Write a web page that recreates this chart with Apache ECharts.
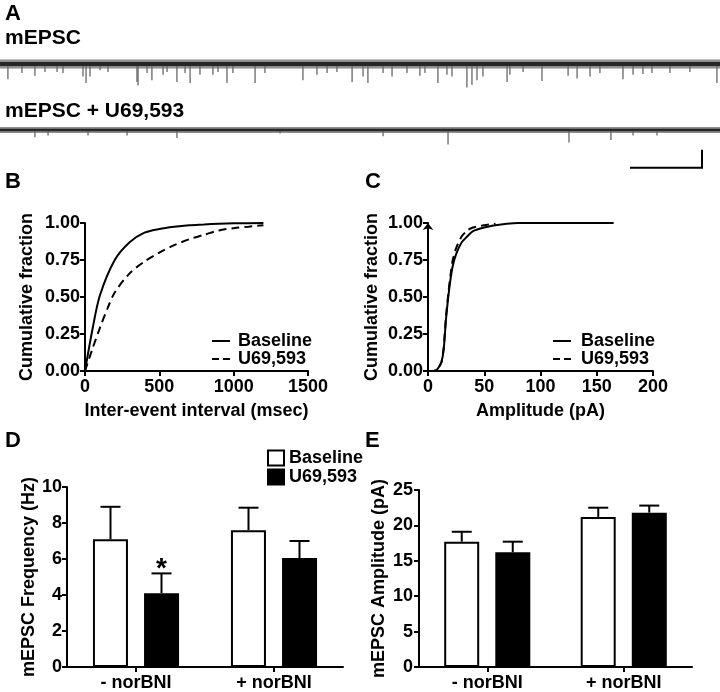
<!DOCTYPE html>
<html>
<head>
<meta charset="utf-8">
<script src="https://cdn.jsdelivr.net/npm/echarts@6/dist/echarts.min.js"></script>
<style>html,body{margin:0;padding:0;background:#fff}#c{width:720px;height:692px}</style>
</head>
<body>
<div id="c"></div>
<script>
// ---------- Panel A: trace events (time in s, amplitude in pA) ----------
const traceSpan = [0, 40];
const eventTimes1 = [0.44,1.22,1.94,2.5,3.17,3.5,4.61,4.78,5.0,5.56,6.0,7.61,7.67,8.17,8.44,9.06,9.28,9.83,10.28,10.56,11.11,11.83,12.11,12.61,12.94,14.17,14.72,16.83,17.61,18.17,18.72,19.56,20.17,20.44,21.28,21.78,22.61,23.33,23.61,24.33,24.83,25.11,25.94,26.22,26.5,26.83,28.17,28.33,29.06,30.11,31.56,32.06,32.78,33.33,34.61,35.17,35.72,36.22,37.22,38.33,39.83];
const eventAmps1  = [17,10,13,9,9,10,14,21,14,7,9,20,24,10,18,12,9,20,10,21,12,12,9,21,10,21,10,18,12,10,9,20,14,21,10,14,10,13,10,21,12,14,26,23,18,14,20,12,9,19,13,16,14,10,17,12,11,10,10,9,21];
const eventTimes2 = [1.94,2.67,4.89,7.06,9.83,15.56,21.28,24.89,31.61,33.94,35.17,36.5];
const eventAmps2  = [8,6,6,6,9,4,7,16,14,11,6,6];
const scaleBarX = [35, 39];   // 4 s
const scaleBarY = [-42, -22]; // 20 pA

// ---------- Panel B: cumulative inter-event interval ----------
const bIntervals = [0,50,100,200,300,400,500,600,700,800,900,1000,1200];
const bBaseline  = [0,0.28,0.51,0.75,0.87,0.935,0.96,0.975,0.985,0.99,0.995,0.998,1.0];
const bU69Int    = [0,50,100,150,200,300,400,500,600,700,800,900,1000,1100,1200];
const bU69       = [0,0.15,0.29,0.42,0.53,0.66,0.74,0.80,0.85,0.89,0.92,0.95,0.965,0.975,0.985];
const fracTicks = ['0.00','0.25','0.50','0.75','1.00'];

// ---------- Panel C: cumulative amplitude ----------
const cAmpBase = [0,5,8,10,12,14,16,18,20,22,25,30,35,40,50,60,70,80,165];
const cBaseline = [0,0,0.01,0.03,0.06,0.15,0.35,0.5,0.62,0.71,0.79,0.87,0.91,0.945,0.97,0.985,0.995,1.0,1.0];
const cAmpU69 = [0,5,8,10,12,14,16,18,20,22,25,30,35,40,50,60];
const cU69 = [0,0,0.01,0.03,0.06,0.16,0.37,0.52,0.65,0.75,0.83,0.91,0.95,0.97,0.985,0.995];

// ---------- Panels D, E: bar charts ----------
const groups = ['- norBNI', '+ norBNI'];
const dBaseMean = [7.1, 7.6],  dBaseErr = [1.8, 1.25];
const dU69Mean  = [4.1, 6.05], dU69Err  = [1.1, 0.95];
const dU69Sig   = ['*', ''];
const eBaseMean = [17.7, 21.2], eBaseErr = [1.4, 1.3];
const eU69Mean  = [16.2, 21.8], eU69Err  = [1.5, 1.0];

const FONT = 'Liberation Sans, Arial, Helvetica, sans-serif';
const labelStyle = {color:'#000', fontWeight:'bold', fontSize:18, fontFamily:FONT};
const nameStyle = {color:'#000', fontWeight:'bold', fontSize:18, fontFamily:FONT};
const axLine = {show:true, lineStyle:{color:'#000', width:2}};
const axTick = {show:true, length:5, lineStyle:{color:'#000', width:2}};
const SOLID_ICON = 'path://M0,0H18V2H0Z';
const DASH_ICON = 'path://M0,0H7V2H0Z M11,0H18V2H11Z';

const BAR_W = 35, OFF = 25.5;

function pairs(xs, ys){ return xs.map((x,i)=>[x, ys[i]]); }

function spikeSeries(times, amps, ai){
  return {
    type:'custom', xAxisIndex:ai, yAxisIndex:ai, silent:true, z:2,
    data: pairs(times, amps),
    renderItem:(p, api)=>{
      const a = api.coord([api.value(0), 0]);
      const b = api.coord([api.value(0), -api.value(1)]);
      return {type:'line', shape:{x1:a[0],y1:a[1],x2:b[0],y2:b[1]}, style:{stroke:'#5a5a5a', lineWidth:1.2}};
    }
  };
}
function bandSeries(ai, w1, w2){
  return [
    {type:'line', xAxisIndex:ai, yAxisIndex:ai, symbol:'none', silent:true, z:3,
     data:[[traceSpan[0],0],[traceSpan[1],0]], lineStyle:{color:'#6a6a6a', width:w2, opacity:0.75}},
    {type:'line', xAxisIndex:ai, yAxisIndex:ai, symbol:'none', silent:true, z:4,
     data:[[traceSpan[0],0],[traceSpan[1],0]], lineStyle:{color:'#262626', width:w1}}
  ];
}
function errSeries(ai, means, errs, sign, sig){
  return {
    type:'custom', xAxisIndex:ai, yAxisIndex:ai, silent:true, z:10,
    data: means.map((m,i)=>[i, m, errs[i]]),
    renderItem:(p, api)=>{
      const i = api.value(0), m = api.value(1), e = api.value(2);
      const a = api.coord([i, m]), b = api.coord([i, m+e]);
      const x = a[0] + sign*OFF;
      const children = [
        {type:'line', shape:{x1:x,y1:a[1],x2:x,y2:b[1]}, style:{stroke:'#000', lineWidth:2}},
        {type:'line', shape:{x1:x-10,y1:b[1],x2:x+10,y2:b[1]}, style:{stroke:'#000', lineWidth:2}}
      ];
      if (sig && sig[p.dataIndex]) {
        children.push({type:'text', style:{text:sig[p.dataIndex], x:x, y:b[1]+10, align:'center', verticalAlign:'bottom',
          font:'bold 28px ' + FONT, fill:'#000'}});
      }
      return {type:'group', children};
    }
  };
}

const fmtName = n => n.slice(2);

const option = {
  animation:false,
  backgroundColor:'#fff',
  textStyle:{fontFamily:FONT},
  grid:[
    {left:0, width:720, top:55, height:36},
    {left:0, width:720, top:121, height:49.5},
    {left:85, right:412, top:223, bottom:321},
    {left:428, right:67, top:223, bottom:321},
    {left:67, right:377, top:487, bottom:23},
    {left:419, right:28, top:490, bottom:23}
  ],
  xAxis:[
    {gridIndex:0, type:'value', min:traceSpan[0], max:traceSpan[1], show:false},
    {gridIndex:1, type:'value', min:traceSpan[0], max:traceSpan[1], show:false},
    {gridIndex:2, type:'value', min:0, max:1500, interval:500, axisLine:axLine, axisTick:axTick,
     splitLine:{show:false}, axisLabel:Object.assign({margin:7, formatter:v=>String(v)}, labelStyle),
     name:'Inter-event interval (msec)', nameLocation:'middle', nameGap:31, nameTextStyle:nameStyle},
    {gridIndex:3, type:'value', min:0, max:200, interval:50, axisLine:axLine, axisTick:axTick,
     splitLine:{show:false}, axisLabel:Object.assign({margin:7, formatter:v=>String(v)}, labelStyle),
     name:'Amplitude (pA)', nameLocation:'middle', nameGap:31, nameTextStyle:nameStyle},
    {gridIndex:4, type:'category', data:groups, axisLine:axLine, axisTick:Object.assign({alignWithLabel:true}, axTick),
     axisLabel:Object.assign({margin:7}, labelStyle)},
    {gridIndex:5, type:'category', data:groups, axisLine:axLine, axisTick:Object.assign({alignWithLabel:true}, axTick),
     axisLabel:Object.assign({margin:7}, labelStyle)}
  ],
  yAxis:[
    {gridIndex:0, type:'value', min:-30, max:10, show:false},
    {gridIndex:1, type:'value', min:-45, max:10, show:false},
    {gridIndex:2, type:'value', min:0, max:1, interval:0.25, axisLine:axLine, axisTick:axTick,
     splitLine:{show:false}, axisLabel:Object.assign({margin:5, formatter:v=>fracTicks[Math.round(v*4)]}, labelStyle),
     name:'Cumulative fraction', nameLocation:'middle', nameGap:49, nameTextStyle:nameStyle},
    {gridIndex:3, type:'value', min:0, max:1, interval:0.25,
     axisLine:Object.assign({symbol:['none','arrow'], symbolSize:[8,7]}, axLine), axisTick:axTick,
     splitLine:{show:false}, axisLabel:Object.assign({margin:5, formatter:v=>fracTicks[Math.round(v*4)]}, labelStyle),
     name:'Cumulative fraction', nameLocation:'middle', nameGap:47, nameTextStyle:nameStyle},
    {gridIndex:4, type:'value', min:0, max:10, interval:2, axisLine:axLine, axisTick:axTick,
     splitLine:{show:false}, axisLabel:Object.assign({margin:5}, labelStyle),
     name:'mEPSC Frequency (Hz)', nameLocation:'middle', nameGap:27, nameTextStyle:nameStyle},
    {gridIndex:5, type:'value', min:0, max:25, interval:5, axisLine:axLine, axisTick:axTick,
     splitLine:{show:false}, axisLabel:Object.assign({margin:6}, labelStyle),
     name:'mEPSC Amplitude (pA)', nameLocation:'middle', nameGap:31, nameTextStyle:nameStyle}
  ],
  legend:[
    {orient:'vertical', left:212, top:332, padding:0, itemWidth:18, itemHeight:2, itemGap:0, selectedMode:false,
     formatter:fmtName,
     data:[{name:'B:Baseline', icon:SOLID_ICON, itemStyle:{color:'#000'}},
           {name:'B:U69,593', icon:DASH_ICON, itemStyle:{color:'#000'}}],
     textStyle:Object.assign({lineHeight:16.5, padding:[0,0,0,3]}, labelStyle)},
    {orient:'vertical', left:553, top:332, padding:0, itemWidth:18, itemHeight:2, itemGap:0, selectedMode:false,
     formatter:fmtName,
     data:[{name:'C:Baseline', icon:SOLID_ICON, itemStyle:{color:'#000'}},
           {name:'C:U69,593', icon:DASH_ICON, itemStyle:{color:'#000'}}],
     textStyle:Object.assign({lineHeight:16.5, padding:[0,0,0,5]}, labelStyle)},
    {orient:'vertical', left:267, top:449, padding:0, itemWidth:16, itemHeight:15, itemGap:1, selectedMode:false,
     formatter:fmtName,
     data:[{name:'D:Baseline', icon:'rect', itemStyle:{color:'#fff', borderColor:'#000', borderWidth:2}},
           {name:'D:U69,593', icon:'rect', itemStyle:{color:'#000', borderColor:'#000', borderWidth:2}}],
     textStyle:Object.assign({lineHeight:15}, labelStyle)}
  ],
  graphic:[
    {type:'text', left:5, top:3, style:{text:'A', font:'bold 22px '+FONT, fill:'#000'}},
    {type:'text', left:5, top:28, style:{text:'mEPSC', font:'bold 21px '+FONT, fill:'#000'}},
    {type:'text', left:5, top:101, style:{text:'mEPSC + U69,593', font:'bold 21px '+FONT, fill:'#000'}},
    {type:'text', left:5, top:171, style:{text:'B', font:'bold 22px '+FONT, fill:'#000'}},
    {type:'text', left:365, top:171, style:{text:'C', font:'bold 22px '+FONT, fill:'#000'}},
    {type:'text', left:5, top:430, style:{text:'D', font:'bold 22px '+FONT, fill:'#000'}},
    {type:'text', left:365, top:430, style:{text:'E', font:'bold 22px '+FONT, fill:'#000'}}
  ],
  series:[
    spikeSeries(eventTimes1, eventAmps1, 0),
    ...bandSeries(0, 4, 9),
    spikeSeries(eventTimes2, eventAmps2, 1),
    ...bandSeries(1, 2.5, 6),
    {type:'custom', xAxisIndex:1, yAxisIndex:1, silent:true,
     data:[[scaleBarX[0], scaleBarY[0]], [scaleBarX[1], scaleBarY[1]]],
     renderItem:(p, api)=>{
       if (p.dataIndex !== 0) return null;
       const a = api.coord([scaleBarX[0], scaleBarY[0]]);
       const c = api.coord([scaleBarX[1], scaleBarY[0]]);
       const d = api.coord([scaleBarX[1], scaleBarY[1]]);
       return {type:'polyline', shape:{points:[a,c,d]}, style:{stroke:'#000', lineWidth:2, fill:null}};
     }},
    {name:'B:Baseline', type:'line', xAxisIndex:2, yAxisIndex:2, symbol:'none', smooth:0.3,
     data:pairs(bIntervals, bBaseline), lineStyle:{color:'#000', width:2}, itemStyle:{color:'#000'}},
    {name:'B:U69,593', type:'line', xAxisIndex:2, yAxisIndex:2, symbol:'none', smooth:0.3,
     data:pairs(bU69Int, bU69), lineStyle:{color:'#000', width:2, type:[8,5]}, itemStyle:{color:'#000'}},
    {name:'C:Baseline', type:'line', xAxisIndex:3, yAxisIndex:3, symbol:'none', smooth:0.2,
     data:pairs(cAmpBase, cBaseline), lineStyle:{color:'#000', width:2}, itemStyle:{color:'#000'}},
    {name:'C:U69,593', type:'line', xAxisIndex:3, yAxisIndex:3, symbol:'none', smooth:0.2,
     data:pairs(cAmpU69, cU69), lineStyle:{color:'#000', width:2, type:[8,5]}, itemStyle:{color:'#000'}},
    {name:'D:Baseline', type:'bar', xAxisIndex:4, yAxisIndex:4, barWidth:BAR_W, barGap:'46%',
     data:dBaseMean, itemStyle:{color:'#fff', borderColor:'#000', borderWidth:2}},
    {name:'D:U69,593', type:'bar', xAxisIndex:4, yAxisIndex:4, barWidth:BAR_W, barGap:'46%',
     data:dU69Mean, itemStyle:{color:'#000', borderColor:'#000', borderWidth:2}},
    errSeries(4, dBaseMean, dBaseErr, -1, null),
    errSeries(4, dU69Mean, dU69Err, 1, dU69Sig),
    {name:'E:Baseline', type:'bar', xAxisIndex:5, yAxisIndex:5, barWidth:BAR_W, barGap:'46%',
     data:eBaseMean, itemStyle:{color:'#fff', borderColor:'#000', borderWidth:2}},
    {name:'E:U69,593', type:'bar', xAxisIndex:5, yAxisIndex:5, barWidth:BAR_W, barGap:'46%',
     data:eU69Mean, itemStyle:{color:'#000', borderColor:'#000', borderWidth:2}},
    errSeries(5, eBaseMean, eBaseErr, -1, null),
    errSeries(5, eU69Mean, eU69Err, 1, null)
  ]
};

const chart = echarts.init(document.getElementById('c'), null, {renderer:'canvas'});
chart.setOption(option);
</script>
</body>
</html>
